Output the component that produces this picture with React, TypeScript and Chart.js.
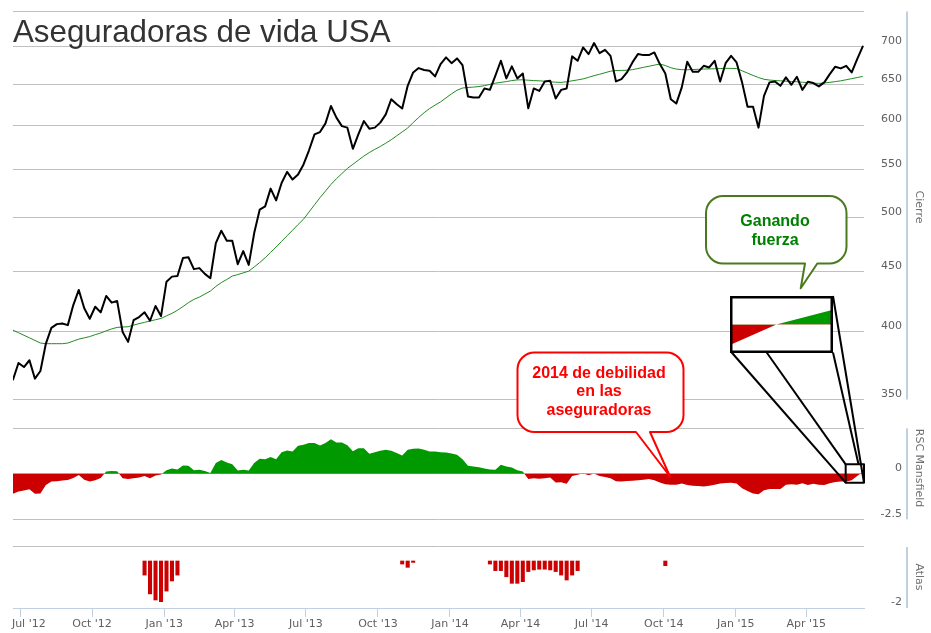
import React, { useEffect, useRef } from "react";
import { Chart, registerables } from "chart.js";

Chart.register(...registerables);

// ---------------- data ----------------
const firstWeek = "2012-06-22"; // first weekly close

const closePrices = [
  363.9, 376.0, 373.0, 378.0, 364.6, 370.1, 390.6, 402.8, 405.8, 406.3,
  405.0, 421.3, 434.0, 418.6, 410.1, 419.9, 415.3, 428.9, 423.3, 424.6,
  399.6, 391.9, 409.0, 411.5, 415.3, 408.5, 420.5, 412.3, 441.1, 445.5,
  446.1, 462.0, 462.8, 452.1, 453.0, 447.9, 444.1, 475.8, 487.5, 478.0,
  478.0, 456.5, 468.4, 455.9, 485.3, 508.1, 511.4, 529.6, 517.5, 535.5,
  547.3, 539.1, 544.4, 555.3, 571.0, 589.1, 591.8, 602.0, 622.9, 608.8,
  598.8, 597.0, 572.7, 589.1, 604.8, 595.8, 597.0, 602.9, 612.8, 631.2,
  625.0, 619.8, 648.1, 665.4, 671.1, 668.5, 667.6, 660.2, 676.4, 685.3,
  677.6, 684.0, 675.0, 634.7, 633.4, 633.4, 644.8, 643.0, 661.1, 680.8,
  657.6, 673.3, 657.6, 664.0, 620.1, 644.8, 641.7, 653.7, 654.5, 632.2,
  643.0, 644.8, 686.7, 680.8, 698.9, 689.8, 704.9, 691.1, 695.6, 687.4,
  653.7, 656.7, 665.4, 678.6, 689.8, 688.4, 688.4, 692.0, 676.4, 664.0,
  631.2, 625.9, 646.1, 679.5, 666.2, 666.2, 674.1, 671.9, 680.8, 653.7,
  677.6, 687.4, 678.6, 652.5, 622.1, 622.1, 597.0, 635.4, 652.5, 653.7,
  648.1, 658.9, 649.4, 659.7, 643.0, 653.3, 651.6, 647.4, 652.5, 663.1,
  672.9, 670.7, 674.1, 665.4, 683.0, 700.0,
];

const movingAverage = [
  401, 399, 397, 395, 393, 391, 390.5, 390.5, 390.5, 390.5,
  391, 392.5, 394, 395, 396, 397.5, 398.8, 400.5, 402, 403.2,
  403.5, 403.7, 405, 406.2, 407.2, 408.3, 409.3, 410.4, 412.5, 414.5,
  417, 420, 423.3, 426, 428, 430.5, 433, 437, 440.3, 443,
  446, 447.3, 448.8, 450.3, 454, 458, 462.3, 467.3, 472.2, 477.5,
  482.7, 488, 493.5, 498.7, 505.8, 513, 520.2, 527, 534, 540,
  545.5, 551, 555.5, 560, 564.5, 568.5, 572, 575.3, 579, 583,
  587.5, 592, 596.5, 603, 609, 614.8, 619.8, 624, 628, 633,
  638, 642.5, 645.3, 646, 646.5, 647.2, 648.3, 650, 651.5, 652.5,
  653.5, 654.8, 655.7, 655.8, 655.3, 654.8, 654.5, 654, 653.3, 652.7,
  652.5, 653.3, 654.5, 655.7, 657, 659, 661.2, 663, 665, 667,
  667.8, 668, 668.3, 669, 670.5, 672, 673.5, 675, 676.4, 674.5,
  671.5, 669.8, 669, 668.9, 669.2, 669.5, 669.8, 670, 670.2, 670.5,
  670.7, 670.7, 670.5, 667.5, 664.5, 661.5, 658.7, 656.5, 655.5, 654.9,
  654.5, 654, 653.6, 653.3, 652.7, 652.2, 651.5, 651.2, 651.8, 652.5,
  653.5, 654.5, 655.9, 657.3, 658.7, 660.2,
];

const rscMansfield = [
  -1.10, -0.97, -0.92, -0.85, -1.10, -1.08, -0.62, -0.42, -0.41, -0.37,
  -0.34, -0.23, -0.07, -0.33, -0.43, -0.35, -0.23, 0.13, 0.15, 0.14,
  -0.24, -0.29, -0.24, -0.20, -0.12, -0.24, -0.09, -0.04, 0.19, 0.29,
  0.24, 0.46, 0.44, 0.20, 0.22, 0.16, 0.05, 0.60, 0.76, 0.62,
  0.53, 0.18, 0.22, 0.18, 0.59, 0.82, 0.80, 0.92, 0.80, 1.19,
  1.28, 1.23, 1.54, 1.59, 1.69, 1.69, 1.56, 1.69, 1.90, 1.72,
  1.72, 1.57, 1.24, 1.41, 1.40, 1.10, 1.19, 1.26, 1.32, 1.27,
  1.14, 1.01, 1.32, 1.37, 1.39, 1.32, 1.23, 1.23, 1.19, 1.17,
  1.11, 1.05, 0.80, 0.44, 0.40, 0.36, 0.29, 0.24, 0.22, 0.50,
  0.40, 0.35, 0.20, 0.12, -0.29, -0.24, -0.27, -0.24, -0.21, -0.48,
  -0.46, -0.55, -0.12, -0.05, 0.03, -0.08, 0.02, -0.12, -0.17, -0.25,
  -0.41, -0.42, -0.40, -0.38, -0.36, -0.33, -0.28, -0.35, -0.48, -0.58,
  -0.60, -0.60, -0.53, -0.62, -0.66, -0.67, -0.70, -0.66, -0.60, -0.54,
  -0.50, -0.49, -0.53, -0.80, -0.95, -1.08, -1.12, -0.90, -0.84, -0.84,
  -0.83, -0.60, -0.58, -0.60, -0.52, -0.62, -0.55, -0.60, -0.62, -0.52,
  -0.45, -0.42, -0.42, -0.35, -0.12, 0.10,
];

const atlasWeekIndex = [
  24, 25, 26, 27, 28, 29, 30,
  71, 72, 73,
  87, 88, 89, 90, 91, 92, 93, 94, 95, 96, 97, 98, 99, 100, 101, 102, 103,
  119,
];
const atlasValues = [
  -0.60, -1.40, -1.66, -1.73, -1.28, -0.85, -0.60,
  -0.13, -0.27, -0.06,
  -0.13, -0.41, -0.41, -0.67, -0.95, -0.95, -0.88, -0.45, -0.38, -0.35, -0.35, -0.38, -0.45, -0.60, -0.81, -0.60, -0.41,
  -0.20,
];

const quarterStarts = [
  "2012-07-01", "2012-10-01", "2013-01-01", "2013-04-01", "2013-07-01", "2013-10-01",
  "2014-01-01", "2014-04-01", "2014-07-01", "2014-10-01", "2015-01-01", "2015-04-01",
];
const quarterLabels = [
  "Jul '12", "Oct '12", "Jan '13", "Apr '13", "Jul '13", "Oct '13",
  "Jan '14", "Apr '14", "Jul '14", "Oct '14", "Jan '15", "Apr '15",
];

const priceTicks = [350, 400, 450, 500, 550, 600, 650, 700, 750];
const rscTicks = [-2.5, 0, 2.5];
const atlasTicks = [-2, 0.6];

// magnified inset of the last RSC weeks
const insetPositions = [0, 0.45, 1];
const insetRsc = [-0.36, 0, 0.26];

const chartTitle = "Aseguradoras de vida USA";
const weakLines = ["2014 de debilidad", "en las", "aseguradoras"];
const strongLines = ["Ganando", "fuerza"];
const axisTitles = ["Cierre", "RSC Mansfield", "Atlas"];

// ---------------- helpers ----------------
const DAY_MS = 86400000;
const ORIGIN = Date.UTC(2012, 6, 1);
const dayNumber = (iso: string) => (Date.parse(iso + "T00:00:00Z") - ORIGIN) / DAY_MS;
const weekDay = (i: number) => dayNumber(firstWeek) + 7 * i;

const FONT = '"DejaVu Sans", Verdana, sans-serif';
const ARIAL = '"Liberation Sans", Arial, sans-serif';
const GRID = "#C0C0C0";
const AXIS_LINE = "#C0D0E0";
const LABEL = "#606060";
const GREEN_FILL = "#009900";
const RED_FILL = "#CC0000";

Chart.defaults.font.family = FONT;

function drawCallout(
  ctx: CanvasRenderingContext2D,
  o: { x: number; y: number; w: number; h: number; r: number; baseL: number; baseR: number; tipX: number; tipY: number; stroke: string }
) {
  const { x, y, w, h, r, baseL, baseR, tipX, tipY } = o;
  ctx.beginPath();
  ctx.moveTo(x + r, y);
  ctx.lineTo(x + w - r, y);
  ctx.arcTo(x + w, y, x + w, y + r, r);
  ctx.lineTo(x + w, y + h - r);
  ctx.arcTo(x + w, y + h, x + w - r, y + h, r);
  ctx.lineTo(baseR, y + h);
  ctx.lineTo(tipX, tipY);
  ctx.lineTo(baseL, y + h);
  ctx.lineTo(x + r, y + h);
  ctx.arcTo(x, y + h, x, y + h - r, r);
  ctx.lineTo(x, y + r);
  ctx.arcTo(x, y, x + r, y, r);
  ctx.closePath();
  ctx.fillStyle = "#ffffff";
  ctx.fill();
  ctx.lineWidth = 2;
  ctx.lineJoin = "round";
  ctx.strokeStyle = o.stroke;
  ctx.stroke();
}

const overlayPlugin = {
  id: "overlay",
  afterDraw(chart: any) {
    const { ctx, scales } = chart;
    const { x, yP, yR, yA } = scales;
    ctx.save();

    // right-hand axis lines
    ctx.strokeStyle = AXIS_LINE;
    ctx.lineWidth = 2;
    const axisX = 907;
    const segs: [any, number, number][] = [
      [yP, 750, 350],
      [yR, 2.5, -2.5],
      [yA, 0.6, -2],
    ];
    segs.forEach(([s, a, b]) => {
      ctx.beginPath();
      ctx.moveTo(axisX, s.getPixelForValue(a));
      ctx.lineTo(axisX, s.getPixelForValue(b));
      ctx.stroke();
    });

    // axis titles
    ctx.fillStyle = "#707070";
    ctx.font = `11px ${FONT}`;
    ctx.textAlign = "center";
    ctx.textBaseline = "middle";
    const titleY = [207, 468, 577];
    axisTitles.forEach((t, i) => {
      ctx.save();
      ctx.translate(918.5, titleY[i]);
      ctx.rotate(Math.PI / 2);
      ctx.fillText(t, 0, 0);
      ctx.restore();
    });

    // chart title
    ctx.fillStyle = "#333333";
    ctx.font = `31.3px ${ARIAL}`;
    ctx.textAlign = "left";
    ctx.textBaseline = "alphabetic";
    ctx.fillText(chartTitle, 13, 42);

    // callouts
    drawCallout(ctx, { x: 517.5, y: 352.5, w: 166, h: 79.5, r: 17, baseL: 636, baseR: 650, tipX: 670, tipY: 476.5, stroke: "#FF0000" });
    ctx.fillStyle = "#FF0000";
    ctx.font = `bold 16px ${ARIAL}`;
    ctx.textAlign = "center";
    weakLines.forEach((t, i) => ctx.fillText(t, 599, 377.5 + i * 18.7));

    drawCallout(ctx, { x: 706, y: 196, w: 140.5, h: 67.5, r: 17, baseL: 805, baseR: 817.3, tipX: 800.7, tipY: 288.3, stroke: "#4A7A1E" });
    ctx.fillStyle = "#008000";
    strongLines.forEach((t, i) => ctx.fillText(t, 775, 226 + i * 19));

    // zoom box around the last weeks of the RSC and connectors to the inset
    const bx0 = x.getPixelForValue(1054.3);
    const bx1 = x.getPixelForValue(x.max);
    const by0 = yR.getPixelForValue(0.52);
    const by1 = yR.getPixelForValue(-0.49);
    ctx.strokeStyle = "#000000";
    ctx.lineWidth = 2;
    ctx.strokeRect(bx0, by0, bx1 - bx0, by1 - by0);
    const lines: number[][] = [
      [731.7, 352.5, bx0, by1],
      [766.7, 352.5, bx0, by0],
      [833, 296, bx1, by1],
      [833, 352.5, bx0 + 0.7 * (bx1 - bx0), by0],
    ];
    lines.forEach(([a, b, c, d]) => {
      ctx.beginPath();
      ctx.moveTo(a, b);
      ctx.lineTo(c, d);
      ctx.stroke();
    });
    ctx.restore();
  },
};

export default function App() {
  const mainRef = useRef<HTMLCanvasElement>(null);
  const insetRef = useRef<HTMLCanvasElement>(null);

  useEffect(() => {
    const AXIS_W = 38; // labels right-aligned to the axis box's right edge (x = 902)

    const priceLabel = (v: number) => (v === 750 ? "" : String(v));
    const rscLabel = (v: number) => (v === 2.5 ? "" : String(v));
    const atlasLabel = (v: number) => (v === -2 ? "-2" : "");

    const yTicks = {
      font: { family: FONT, size: 11 },
      color: LABEL,
      crossAlign: "far" as const,
      labelOffset: -5.5,
      padding: 0,
      autoSkip: false,
    };
    const yCommon = (weight: number, stackWeight: number) => ({
      position: "right" as const,
      stack: "panes",
      stackWeight,
      weight,
      border: { display: false },
      grid: { color: GRID, lineWidth: 1, drawTicks: false },
      afterFit: (s: any) => {
        s.width = AXIS_W;
        s.paddingTop = 0;
        s.paddingBottom = 0;
      },
    });

    const main = new Chart(mainRef.current!, {
      type: "line",
      data: {
        datasets: [
          {
            type: "line",
            label: "Cierre",
            data: closePrices.map((v, i) => ({ x: weekDay(i), y: v })),
            yAxisID: "yP",
            borderColor: "#000000",
            borderWidth: 2,
            pointRadius: 0,
            tension: 0,
            borderJoinStyle: "round",
            borderCapStyle: "round",
            fill: false,
          },
          {
            type: "line",
            label: "Media",
            data: movingAverage.map((v, i) => ({ x: weekDay(i), y: v })),
            yAxisID: "yP",
            borderColor: "#228B22",
            borderWidth: 1,
            pointRadius: 0,
            tension: 0,
            fill: false,
          },
          {
            type: "line",
            label: "RSC Mansfield",
            data: rscMansfield.map((v, i) => ({ x: weekDay(i), y: v })),
            yAxisID: "yR",
            borderColor: "rgba(0,0,0,0)",
            borderWidth: 0,
            pointRadius: 0,
            tension: 0,
            fill: { target: "origin", above: GREEN_FILL, below: RED_FILL },
          },
          {
            type: "bar",
            label: "Atlas",
            data: atlasWeekIndex.map((w, i) => ({ x: weekDay(w), y: atlasValues[i] })),
            yAxisID: "yA",
            backgroundColor: RED_FILL,
            borderWidth: 0,
            barThickness: 3.4,
            grouped: false,
          } as any,
        ],
      },
      options: {
        responsive: false,
        animation: false,
        events: [],
        layout: { padding: { top: 11.5, left: 13, right: 931 - 864 - AXIS_W, bottom: 0 } },
        plugins: { legend: { display: false }, tooltip: { enabled: false }, title: { display: false } },
        scales: {
          x: {
            type: "linear",
            position: "bottom",
            offset: false,
            min: weekDay(0),
            max: weekDay(closePrices.length - 1) + 1.7,
            afterBuildTicks: (s: any) => {
              s.ticks = quarterStarts.map((d) => ({ value: dayNumber(d) }));
            },
            afterFit: (s: any) => {
              s.height = 25;
              s.paddingLeft = 0;
              s.paddingRight = 0;
            },
            ticks: {
              font: { family: FONT, size: 11 },
              color: LABEL,
              padding: 1,
              maxRotation: 0,
              minRotation: 0,
              autoSkip: false,
              callback: (_v: any, i: number) => (i === 0 ? "     " + quarterLabels[i] : quarterLabels[i]),
            },
            grid: { offset: false, drawOnChartArea: false, drawTicks: true, tickLength: 9, color: AXIS_LINE },
            border: { color: AXIS_LINE, width: 1 },
          },
          yP: {
            ...yCommon(1, 402),
            type: "logarithmic",
            min: 340.45,
            max: 750,
            afterBuildTicks: (s: any) => {
              s.ticks = priceTicks.map((v) => ({ value: v }));
            },
            ticks: { ...yTicks, callback: (v: any) => priceLabel(Number(v)) },
          } as any,
          yR: {
            ...yCommon(2, 119.5),
            type: "linear",
            min: -3.253,
            max: 3.313,
            afterBuildTicks: (s: any) => {
              s.ticks = rscTicks.map((v) => ({ value: v }));
            },
            ticks: { ...yTicks, callback: (v: any) => rscLabel(Number(v)) },
          } as any,
          yA: {
            ...yCommon(3, 75),
            type: "linear",
            min: -2,
            max: 1.191,
            afterBuildTicks: (s: any) => {
              s.ticks = atlasTicks.map((v) => ({ value: v }));
            },
            grid: {
              drawTicks: false,
              lineWidth: 1,
              color: (c: any) => (c.tick && c.tick.value === -2 ? "rgba(0,0,0,0)" : GRID),
            },
            ticks: { ...yTicks, callback: (v: any) => atlasLabel(Number(v)) },
          } as any,
        },
      } as any,
      plugins: [overlayPlugin],
    });

    const inset = new Chart(insetRef.current!, {
      type: "line",
      data: {
        datasets: [
          {
            data: insetPositions.map((p, i) => ({ x: p, y: insetRsc[i] })),
            borderColor: "rgba(0,0,0,0)",
            borderWidth: 0,
            pointRadius: 0,
            tension: 0,
            fill: { target: "origin", above: GREEN_FILL, below: RED_FILL },
          },
        ],
      },
      options: {
        responsive: false,
        animation: false,
        events: [],
        layout: { padding: 0 },
        plugins: { legend: { display: false }, tooltip: { enabled: false } },
        scales: {
          x: { type: "linear", min: 0, max: 1, display: false },
          y: { type: "linear", min: -0.5, max: 0.5, display: false },
        },
      } as any,
      plugins: [
        {
          id: "insetFrame",
          afterDraw(c: any) {
            const { ctx, width, height } = c;
            ctx.save();
            ctx.strokeStyle = "#000000";
            ctx.lineWidth = 2.5;
            ctx.strokeRect(1.25, 1.25, width - 2.5, height - 2.5);
            ctx.restore();
          },
        },
      ],
    });

    return () => {
      main.destroy();
      inset.destroy();
    };
  }, []);

  return (
    <div style={{ position: "absolute", left: 0, top: 0, width: 931, height: 633, background: "#ffffff" }}>
      <canvas
        ref={mainRef}
        width={931}
        height={633}
        style={{ position: "absolute", left: 0, top: 0, width: 931, height: 633 }}
      />
      <canvas
        ref={insetRef}
        width={103}
        height={57}
        style={{ position: "absolute", left: 730, top: 296, width: 103, height: 57, background: "#ffffff" }}
      />
    </div>
  );
}
